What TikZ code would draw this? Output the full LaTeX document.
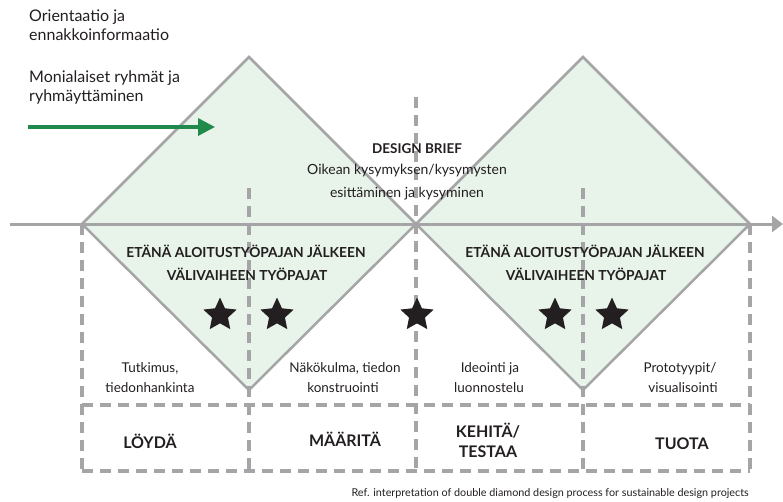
\documentclass[tikz,border=0pt]{standalone}
\usepackage{fontspec}
\setmainfont{Lato}
\usetikzlibrary{shapes.geometric,arrows.meta}
\definecolor{txt}{HTML}{231F20}
\definecolor{dgray}{HTML}{A5A5A8}
\definecolor{lgreen}{HTML}{E8F3EA}
\definecolor{agreen}{HTML}{1F8A4C}
\begin{document}
\begin{tikzpicture}[x=1pt,y=-1pt,
  dia/.style={draw=dgray, line width=2.5pt, fill=lgreen, line join=miter},
  dsh/.style={draw=dgray, line width=4.5pt, dash pattern=on 11pt off 7pt},
  axis/.style={draw=dgray, line width=3pt, -{Triangle[length=11pt,width=16pt]}},
  garrow/.style={draw=agreen, line width=3.5pt, -{Triangle[length=17pt,width=17pt]}},
  txtbase/.style={anchor=base, text=txt, inner sep=0pt},
  side/.style={txtbase, anchor=base west, font=\fontsize{16}{19}\selectfont},
  brief/.style={txtbase, font=\fontsize{14}{17}\selectfont},
  head/.style={txtbase, font=\fontsize{13.8}{16}\selectfont\bfseries},
  lbl/.style={txtbase, font=\fontsize{13.5}{15}\selectfont},
  phase/.style={txtbase, font=\fontsize{16}{19}\selectfont\bfseries},
  starmark/.style={star, star points=5, star point ratio=2.1, fill=txt, minimum size=35pt, inner sep=0pt},
  ref/.style={txtbase, anchor=base east, font=\fontsize{10.8}{12}\selectfont}]
\useasboundingbox (0,0) rectangle (783,501);
% diamonds
\draw[dia] (82,224) -- (249,57) -- (416,224) -- (249,390) -- cycle;
\draw[dia] (416,224) -- (583,57) -- (750,224) -- (583,390) -- cycle;
% dashed grid
\draw[dsh] (82,224) -- (82,471);
\draw[dsh] (249,188) -- (249,471);
\draw[dsh] (416,97) -- (416,471);
\draw[dsh] (583,188) -- (583,471);
\draw[dsh] (750,224) -- (750,471);
\draw[dsh] (82,405) -- (750,405);
\draw[dsh] (82,471) -- (750,471);
% axis
\coordinate (axs) at (10,224);
\coordinate (axe) at (783,224);
\draw[axis] (axs) -- (axe);
% green arrow
\coordinate (gs) at (28,127);
\coordinate (ge) at (215,127);
\draw[garrow] (gs) -- (ge);
% side texts
\node[side] (o1) at (29,21) {Orientaatio ja};
\node[side] (o2) at (29,40) {ennakkoinformaatio};
\node[side] (m1) at (29,82) {Monialaiset ryhmät ja};
\node[side] (m2) at (29,101) {ryhmäyttäminen};
% design brief
\node[brief, font=\fontsize{13.5}{16}\selectfont\bfseries] (db) at (417,153) {DESIGN BRIEF};
\node[brief] (db1) at (407,174) {Oikean kysymyksen/kysymysten};
\node[brief] (db2) at (407,197) {esittäminen ja kysyminen};
% workshop heads
\node[head] (h1a) at (246,257) {ETÄNÄ ALOITUSTYÖPAJAN JÄLKEEN};
\node[head] (h1b) at (247,280) {VÄLIVAIHEEN TYÖPAJAT};
\node[head] (h2a) at (585,257) {ETÄNÄ ALOITUSTYÖPAJAN JÄLKEEN};
\node[head] (h2b) at (586,280) {VÄLIVAIHEEN TYÖPAJAT};
% stars
\node[starmark] (s1) at (220,315) {};
\node[starmark] (s2) at (277,315) {};
\node[starmark] (s3) at (417,315) {};
\node[starmark] (s4) at (555,315) {};
\node[starmark] (s5) at (612,315) {};
% labels
\node[lbl] (l1a) at (150,372) {Tutkimus,};
\node[lbl] (l1b) at (150,392) {tiedonhankinta};
\node[lbl] (l2a) at (345,372) {Näkökulma, tiedon};
\node[lbl] (l2b) at (343,392) {konstruointi};
\node[lbl] (l3a) at (490,372) {Ideointi ja};
\node[lbl] (l3b) at (489,392) {luonnostelu};
\node[lbl] (l4a) at (680,372) {Prototyypit/};
\node[lbl] (l4b) at (683,392) {visualisointi};
% phases
\node[phase] (p1) at (150,448) {LÖYDÄ};
\node[phase] (p2) at (345,446) {MÄÄRITÄ};
\node[phase] (p3a) at (488,437) {KEHITÄ/};
\node[phase] (p3b) at (488,457) {TESTAA};
\node[phase] (p4) at (682,449) {TUOTA};
% reference
\node[ref] (rf) at (749,496) {Ref. interpretation of double diamond design process for sustainable design projects};
\end{tikzpicture}
\end{document}
